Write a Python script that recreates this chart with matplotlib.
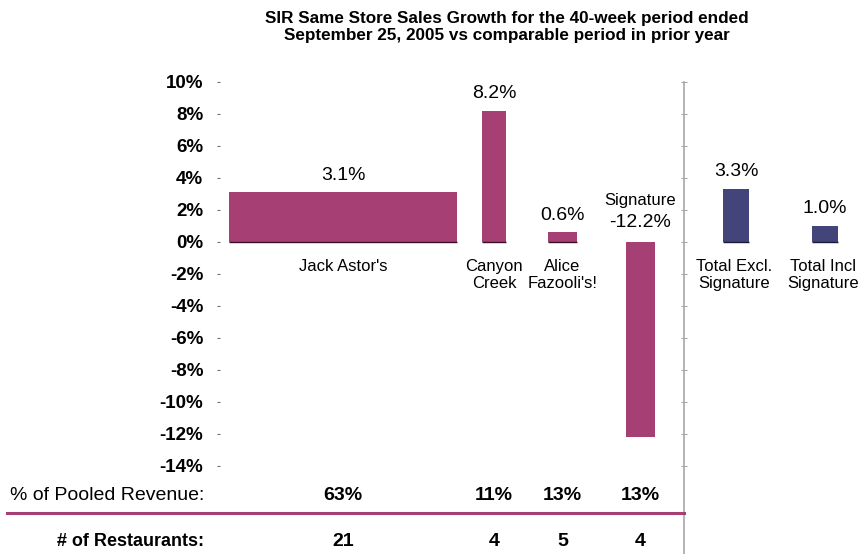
import matplotlib.pyplot as plt
from matplotlib.lines import Line2D
from matplotlib.ticker import FuncFormatter

# data
segments = ["Jack Astor's", "Canyon\nCreek", "Alice\nFazooli's!", "Signature"]
growth = [3.1, 8.2, 0.6, -12.2]
pooled_revenue = [63, 11, 13, 13]
restaurants = [21, 4, 5, 4]
totals = ["Total Excl.\nSignature", "Total Incl\nSignature"]
total_growth = [3.3, 1.0]
yticks = list(range(-14, 11, 2))

# layout (pixel-ish x units)
seg_x = [343, 494, 562.5, 640.5]
seg_w = [228, 24, 29, 29]
tot_x = [736, 825]
tot_w = [26, 26]

MAG = '#A64074'
NAVY = '#42447A'
GRAY = '#A8A8A8'
W, H = 858, 554

plt.rcParams['font.family'] = ['Liberation Sans', 'DejaVu Sans']
fig = plt.figure(figsize=(W / 100, H / 100), dpi=100)

ylo, yhi = (242 - H) / 16, 242 / 16
ax = fig.add_axes([220 / W, 0, (684 - 220) / W, 1])
ax.set_xlim(220, 684)
ax.set_ylim(ylo, yhi)
ax2 = fig.add_axes([684 / W, 0, (W - 684) / W, 1])
ax2.set_xlim(684, W)
ax2.set_ylim(ylo, yhi)

for a in (ax, ax2):
    a.patch.set_visible(False)
    for s in a.spines.values():
        s.set_visible(False)
    a.set_xticks([])
    a.set_yticks(yticks)

ax.yaxis.set_major_formatter(FuncFormatter(lambda v, p: f'{v:.0f}%'))
ax.tick_params(axis='y', length=2, width=0.8, color='#707070', pad=10,
               labelsize=13.5)
for t in ax.get_yticklabels():
    t.set_fontweight('bold')

ax2.spines['left'].set_visible(True)
ax2.spines['left'].set_color(GRAY)
ax2.spines['left'].set_linewidth(1.2)
ax2.spines['left'].set_bounds(ylo, 10)
ax2.tick_params(axis='y', length=4, width=0.8, color=GRAY, direction='inout',
                labelleft=False)

# segment bars
ax.bar(seg_x, growth, width=seg_w, color=MAG, zorder=2)
for x, w, v in zip(seg_x, seg_w, growth):
    if v > 0:
        ax.hlines(0, x - w / 2, x + w / 2, color='#3a1028', lw=1, zorder=3)

for x, v, name in zip(seg_x, growth, segments):
    if v >= 0:
        ax.annotate(f'{v:.1f}%', (x, v), xytext=(0, 12.5), textcoords='offset points',
                    ha='center', va='center', fontsize=14)
        ax.annotate(name, (x, 0), xytext=(0, -12.5), textcoords='offset points',
                    ha='center', va='top', fontsize=12, linespacing=1.1)
    else:
        ax.annotate(f'{v:.1f}%', (x, 0), xytext=(0, 14), textcoords='offset points',
                    ha='center', va='center', fontsize=14)
        ax.annotate(name, (x, 0), xytext=(0, 30), textcoords='offset points',
                    ha='center', va='center', fontsize=12)

# total bars
ax2.bar(tot_x, total_growth, width=tot_w, color=NAVY, zorder=2)
for x, w, v, name in zip(tot_x, tot_w, total_growth, totals):
    ax2.hlines(0, x - w / 2, x + w / 2, color='#1a1a3a', lw=1, zorder=3)
    ax2.annotate(f'{v:.1f}%', (x, v), xytext=(0, 12.5), textcoords='offset points',
                 ha='center', va='center', fontsize=14)
    ax2.annotate(name, (x - 2, 0), xytext=(0, -12.5), textcoords='offset points',
                 ha='center', va='top', fontsize=12, linespacing=1.1,
                 annotation_clip=False)

# bottom rows
tr = ax.get_xaxis_transform()
for x, p, n in zip(seg_x, pooled_revenue, restaurants):
    ax.text(x, 1 - 495 / H, f'{p}%', transform=tr, ha='center', va='center',
            fontsize=14, fontweight='bold')
    ax.text(x, 1 - 542 / H, f'{n}', transform=tr, ha='center', va='center',
            fontsize=14, fontweight='bold')

fig.text(204 / W, 1 - 495 / H, '% of Pooled Revenue:', ha='right', va='center',
         fontsize=14)
fig.text(204 / W, 1 - 542 / H, '# of Restaurants:', ha='right', va='center',
         fontsize=13, fontweight='bold')
fig.add_artist(Line2D([7 / W, 684 / W], [1 - 513 / H, 1 - 513 / H],
                      color=MAG, lw=2.2, transform=fig.transFigure))

fig.text(507 / W, 1 - 27 / H,
         'SIR Same Store Sales Growth for the 40-week period ended\n'
         'September 25, 2005 vs comparable period in prior year',
         ha='center', va='center', fontsize=12.3, fontweight='bold', linespacing=1.15)

fig.savefig('out.png', dpi=100)
